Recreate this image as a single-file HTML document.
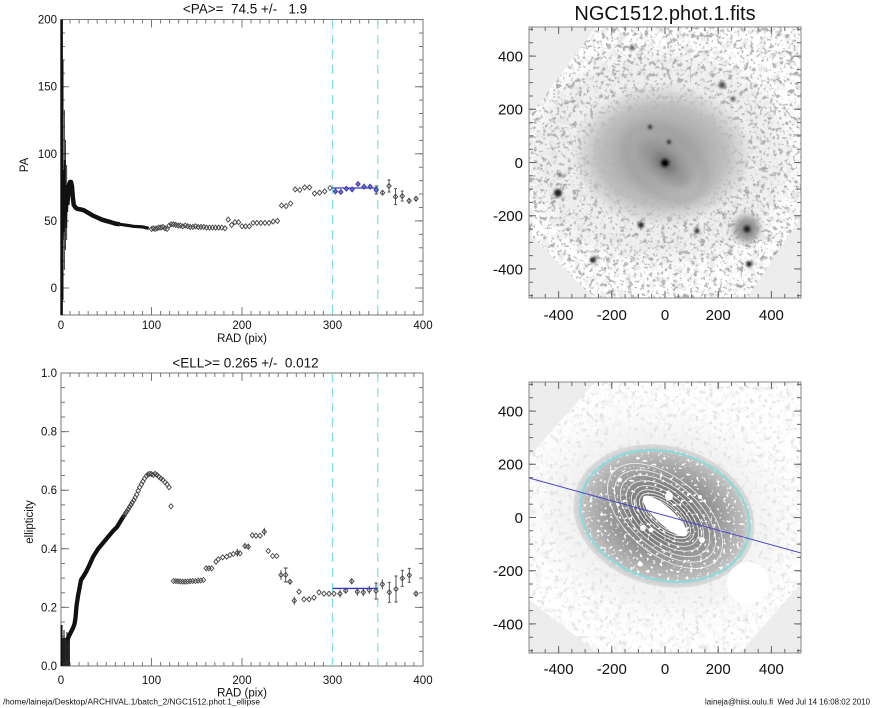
<!DOCTYPE html>
<html><head><meta charset="utf-8"><style>
html,body{margin:0;padding:0;background:#fff;}
svg{display:block;}
text{font-family:"Liberation Sans",Arial,sans-serif;fill:#111;}
</style></head><body>
<svg width="885" height="708" viewBox="0 0 885 708" xmlns="http://www.w3.org/2000/svg">
<defs>
<path id="m" d="M0,-2.5 L2.2,0 L0,2.5 L-2.2,0 Z" fill="none" stroke="#444" stroke-width="0.9"/>
<path id="mb" d="M0,-2.5 L2.2,0 L0,2.5 L-2.2,0 Z" fill="#6a6ad0" stroke="#3a3aa8" stroke-width="0.9"/>
<filter id="fA" filterUnits="userSpaceOnUse" x="529" y="27" width="272" height="271">
<feTurbulence type="fractalNoise" baseFrequency="0.18" numOctaves="3" seed="5" result="t"/>
<feColorMatrix in="t" type="matrix" values="0 0 0 0 0.42 0 0 0 0 0.42 0 0 0 0 0.42 8 0 0 0 -4.85"/>
</filter>
<filter id="fA2" filterUnits="userSpaceOnUse" x="529" y="27" width="272" height="271">
<feTurbulence type="fractalNoise" baseFrequency="0.12" numOctaves="3" seed="17" result="t"/>
<feColorMatrix in="t" type="matrix" values="0 0 0 0 0.78 0 0 0 0 0.78 0 0 0 0 0.78 3 0 0 0 -1.5"/>
</filter>
<filter id="fA3" filterUnits="userSpaceOnUse" x="529" y="27" width="272" height="271">
<feTurbulence type="fractalNoise" baseFrequency="0.3" numOctaves="2" seed="31" result="t"/>
<feColorMatrix in="t" type="matrix" values="0 0 0 0 0.5 0 0 0 0 0.5 0 0 0 0 0.5 9 0 0 0 -5.4"/>
</filter>
<filter id="fB" filterUnits="userSpaceOnUse" x="529" y="382" width="272" height="271">
<feTurbulence type="fractalNoise" baseFrequency="0.22" numOctaves="3" seed="9" result="t"/>
<feColorMatrix in="t" type="matrix" values="0 0 0 0 0.77 0 0 0 0 0.77 0 0 0 0 0.77 7 0 0 0 -4.1"/>
</filter>
<filter id="fB2" filterUnits="userSpaceOnUse" x="529" y="382" width="272" height="271">
<feTurbulence type="fractalNoise" baseFrequency="0.14" numOctaves="3" seed="23" result="t"/>
<feColorMatrix in="t" type="matrix" values="0 0 0 0 0.88 0 0 0 0 0.88 0 0 0 0 0.88 3 0 0 0 -1.5"/>
</filter>
<filter id="fC" filterUnits="userSpaceOnUse" x="570" y="440" width="190" height="155">
<feTurbulence type="fractalNoise" baseFrequency="0.3" numOctaves="2" seed="13" result="t"/>
<feColorMatrix in="t" type="matrix" values="0 0 0 0 1 0 0 0 0 1 0 0 0 0 1 10 0 0 0 -6.2"/>
</filter>
<filter id="bl1"><feGaussianBlur stdDeviation="1.4"/></filter>
<filter id="bl3"><feGaussianBlur stdDeviation="4"/></filter>
<filter id="bl6"><feGaussianBlur stdDeviation="8"/></filter>
<radialGradient id="glow">
<stop offset="0" stop-color="#9a9a9a" stop-opacity="1"/>
<stop offset="0.4" stop-color="#aaaaaa" stop-opacity="1"/>
<stop offset="0.7" stop-color="#bababa" stop-opacity="0.9"/>
<stop offset="0.88" stop-color="#c8c8c8" stop-opacity="0.5"/>
<stop offset="1" stop-color="#d6d6d6" stop-opacity="0"/>
</radialGradient>
<radialGradient id="halo2">
<stop offset="0" stop-color="#cccccc" stop-opacity="0.6"/>
<stop offset="0.7" stop-color="#dddddd" stop-opacity="0.3"/>
<stop offset="1" stop-color="#eeeeee" stop-opacity="0"/>
</radialGradient>
<radialGradient id="gal2">
<stop offset="0" stop-color="#5a5a5a"/>
<stop offset="0.35" stop-color="#7a7a7a"/>
<stop offset="0.62" stop-color="#9c9c9c"/>
<stop offset="0.88" stop-color="#bdbdbd"/>
<stop offset="1" stop-color="#cfcfcf" stop-opacity="0.6"/>
</radialGradient>
<clipPath id="o1"><polygon points="596,27 801,27 801,217 747,298 593,298 529,233 529,117"/></clipPath>
<clipPath id="o2"><polygon points="595,382 801,382 801,583 740,653 598,653 529,600 529,457"/></clipPath>
<clipPath id="e2"><ellipse cx="0" cy="0" rx="88" ry="66" transform="translate(665,516) rotate(15.5)"/></clipPath>
</defs>

<!-- ============ TOP LEFT: PA plot ============ -->
<text x="245" y="13.5" text-anchor="middle" font-size="13.5" style="white-space:pre">&lt;PA&gt;=  74.5 +/-   1.9</text>
<rect x="61" y="19.5" width="362" height="295.5" fill="none" stroke="#777" stroke-width="1"/>
<g stroke="#777" fill="none">
<line x1="60.5" y1="313" x2="424" y2="313" stroke-width="4" stroke-dasharray="1 8.05"/>
<line x1="60.5" y1="21.5" x2="424" y2="21.5" stroke-width="4" stroke-dasharray="1 8.05"/>
<line x1="63" y1="19.1" x2="63" y2="315.3" stroke-width="4" stroke-dasharray="1 12.42"/>
<line x1="421" y1="19.1" x2="421" y2="315.3" stroke-width="4" stroke-dasharray="1 12.42"/>
<path stroke-width="1" d="M151.5,315V307M242,315V307M332.5,315V307M151.5,19.5V27.5M242,19.5V27.5M332.5,19.5V27.5M61,86.7H69M61,153.8H69M61,220.9H69M61,288H69M415,86.7H423M415,153.8H423M415,220.9H423M415,288H423"/>
</g>
<g font-size="11.5" text-anchor="end">
<text x="57" y="23.6">200</text><text x="57" y="90.7">150</text><text x="57" y="157.8">100</text><text x="57" y="224.9">50</text><text x="57" y="292">0</text>
</g>
<g font-size="11.5" text-anchor="middle">
<text x="61" y="329">0</text><text x="151.5" y="329">100</text><text x="242" y="329">200</text><text x="332.5" y="329">300</text><text x="423" y="329">400</text>
</g>
<text x="242" y="342" text-anchor="middle" font-size="11.5">RAD (pix)</text>
<text transform="translate(28,165) rotate(-90)" text-anchor="middle" font-size="11.5">PA</text>
<g stroke="#7fe0e0" stroke-width="1.2" stroke-dasharray="9 6">
<line x1="332.5" y1="20" x2="332.5" y2="315"/><line x1="377.8" y1="20" x2="377.8" y2="315"/>
</g>
<g fill="none" stroke="#111">
<line x1="61.6" y1="19.5" x2="61.6" y2="315" stroke-width="2.6"/>
<line x1="63" y1="60" x2="63" y2="300" stroke-width="1"/>
<line x1="64.3" y1="110" x2="64.3" y2="270" stroke-width="0.8"/>
<line x1="65.5" y1="140" x2="65.5" y2="250" stroke-width="0.8"/>
<line x1="66.7" y1="165" x2="66.7" y2="240" stroke-width="0.8"/>
<polyline stroke-width="1.6" points="62.5,150 63,240 63.6,170 64.1,232 64.7,160 65.2,218 65.8,185 66.3,228 66.8,196 67.3,212 67.8,200 68.3,190"/>
<path stroke-width="4.5" stroke-linejoin="round" d="M67.3,204.8 L68.2,194.1 L69.1,184.7 L70.1,182 L71,182 L71.9,186 L72.8,196.7 L73.7,204.8 L75.5,207.5 L77.3,208.8 L80.9,209.5 L83.6,210.2 L88.2,212.8 L92.7,215.5 L97.2,217.5 L101.7,219.6 L106.3,220.9 L110.8,222.2 L115.3,223.6 L119.8,224.3"/>
<path stroke-width="3.2" stroke-linejoin="round" d="M119.8,224.3 L124.4,224.9 L133.4,226.3 L142.5,226.9 L148.8,228.3"/>
</g>
<g>
<use href="#m" x="151.5" y="229"/><use href="#m" x="153.3" y="228.3"/><use href="#m" x="155.1" y="229"/><use href="#m" x="157" y="228.3"/><use href="#m" x="158.9" y="227.6"/><use href="#m" x="160.9" y="227.6"/><use href="#m" x="162.9" y="226.9"/><use href="#m" x="165" y="228.3"/><use href="#m" x="167.1" y="229"/><use href="#m" x="169.1" y="225.6"/><use href="#m" x="171.3" y="224.3"/><use href="#m" x="173.5" y="224.3"/><use href="#m" x="175.8" y="224.9"/><use href="#m" x="178.1" y="225.6"/><use href="#m" x="180.4" y="225.6"/><use href="#m" x="182.8" y="226.3"/><use href="#m" x="185.3" y="225.6"/><use href="#m" x="187.7" y="226.3"/><use href="#m" x="190.2" y="226.9"/><use href="#m" x="192.9" y="226.9"/><use href="#m" x="195.5" y="226.3"/><use href="#m" x="198.2" y="226.9"/><use href="#m" x="200.9" y="226.9"/><use href="#m" x="203.7" y="226.9"/><use href="#m" x="206.5" y="227.6"/><use href="#m" x="209.5" y="227.6"/><use href="#m" x="212.5" y="227.6"/><use href="#m" x="215.5" y="227.6"/><use href="#m" x="218.6" y="227.6"/><use href="#m" x="221.7" y="227.6"/><use href="#m" x="225" y="228.3"/><use href="#m" x="228.2" y="219.6"/><use href="#m" x="231.6" y="224.9"/><use href="#m" x="235" y="222.2"/><use href="#m" x="238.5" y="222.2"/><use href="#m" x="242" y="226.3"/><use href="#m" x="245.6" y="226.3"/><use href="#m" x="249.3" y="226.3"/><use href="#m" x="253.1" y="222.9"/><use href="#m" x="256.9" y="222.9"/><use href="#m" x="260.8" y="222.9"/><use href="#m" x="264.9" y="222.9"/><use href="#m" x="269" y="222.9"/><use href="#m" x="273.1" y="221.6"/><use href="#m" x="277.4" y="220.9"/><use href="#m" x="281.6" y="205.5"/><use href="#m" x="286.1" y="206.1"/><use href="#m" x="290.6" y="203.5"/><use href="#m" x="295.2" y="189.4"/><use href="#m" x="299.8" y="190"/><use href="#m" x="304.6" y="187.4"/><use href="#m" x="309.5" y="187.4"/><use href="#m" x="314.5" y="193.4"/><use href="#m" x="319.6" y="192.7"/><use href="#m" x="324.7" y="191.4"/><use href="#m" x="330" y="188"/>
<use href="#m" x="382.5" y="192.7"/><use href="#m" x="389" y="186"/><use href="#m" x="395.5" y="196.7"/><use href="#m" x="402.2" y="196.1"/><use href="#m" x="409.1" y="200.8"/><use href="#m" x="416" y="198.8"/>
</g>
<path fill="none" stroke="#444" stroke-width="0.9" d="M376.2,186V194M382.5,190V195.4M389,180V192M395.5,188.7V204.7M402.2,191.1V201.1M409.1,197.8V203.8M416,195.8V201.8M374.7,186H377.7M374.7,194H377.7M387.5,180H390.5M387.5,192H390.5M394,188.7H397M394,204.7H397M400.7,191.1H403.7M400.7,201.1H403.7"/>
<line x1="332.5" y1="188" x2="377.8" y2="188" stroke="#3535c0" stroke-width="1.3"/>
<g>
<use href="#mb" x="335.4" y="191.4"/><use href="#mb" x="340.8" y="192"/><use href="#mb" x="346.4" y="188.7"/><use href="#mb" x="352.1" y="189.4"/><use href="#mb" x="358" y="184"/><use href="#mb" x="364" y="186.7"/><use href="#mb" x="370.1" y="186.7"/><use href="#mb" x="376.2" y="190"/>
</g>

<!-- ============ BOTTOM LEFT: ellipticity ============ -->
<text x="245.5" y="367.5" text-anchor="middle" font-size="13.5" style="white-space:pre">&lt;ELL&gt;= 0.265 +/-  0.012</text>
<rect x="61" y="373" width="362" height="293" fill="none" stroke="#777" stroke-width="1"/>
<g stroke="#777" fill="none">
<line x1="60.5" y1="664" x2="424" y2="664" stroke-width="4" stroke-dasharray="1 8.05"/>
<line x1="60.5" y1="375" x2="424" y2="375" stroke-width="4" stroke-dasharray="1 8.05"/>
<line x1="63" y1="372.5" x2="63" y2="666.5" stroke-width="4" stroke-dasharray="1 13.65"/>
<line x1="421" y1="372.5" x2="421" y2="666.5" stroke-width="4" stroke-dasharray="1 13.65"/>
<path stroke-width="1" d="M151.5,666V658M242,666V658M332.5,666V658M151.5,373V381M242,373V381M332.5,373V381M61,431.6H69M61,490.2H69M61,548.8H69M61,607.4H69M415,431.6H423M415,490.2H423M415,548.8H423M415,607.4H423"/>
</g>
<g font-size="11.5" text-anchor="end">
<text x="57" y="377">1.0</text><text x="57" y="435.6">0.8</text><text x="57" y="494.2">0.6</text><text x="57" y="552.8">0.4</text><text x="57" y="611.4">0.2</text><text x="57" y="670">0.0</text>
</g>
<g font-size="11.5" text-anchor="middle">
<text x="61" y="684">0</text><text x="151.5" y="684">100</text><text x="242" y="684">200</text><text x="332.5" y="684">300</text><text x="423" y="684">400</text>
</g>
<text x="242" y="696.5" text-anchor="middle" font-size="11.5">RAD (pix)</text>
<text transform="translate(33,522) rotate(-90)" text-anchor="middle" font-size="11.5">ellipticity</text>
<g stroke="#7fe0e0" stroke-width="1.2" stroke-dasharray="9 6">
<line x1="332.5" y1="373" x2="332.5" y2="666"/><line x1="377.8" y1="373" x2="377.8" y2="666"/>
</g>
<g fill="none" stroke="#111">
<rect x="61" y="638" width="9" height="28" fill="#2a2a2a" stroke="none"/>
<line x1="61.5" y1="625" x2="61.5" y2="666" stroke-width="2"/>
<line x1="64" y1="630" x2="64" y2="662" stroke-width="1"/>
<line x1="67" y1="632" x2="67" y2="660" stroke-width="1"/>
<path stroke-width="4.3" stroke-linejoin="round" d="M67,640 L69,636 L70,634 L71.5,631 L73,628 L74.5,624 L75.5,618 L76.5,606 L78,596 L79.5,588 L81,580 L83,577 L86,572 L89,566 L93,557 L98,549 L103,543 L108,537 L113,531 L117,527 L120,522 L124.4,515"/>
</g>
<g>
<use href="#m" x="124.4" y="515.1"/><use href="#m" x="125.6" y="513.1"/><use href="#m" x="126.9" y="511.3"/><use href="#m" x="128.2" y="509.2"/><use href="#m" x="129.6" y="506.9"/><use href="#m" x="131" y="504.9"/><use href="#m" x="132.3" y="502.5"/><use href="#m" x="133.8" y="500.2"/><use href="#m" x="135.2" y="497.5"/><use href="#m" x="136.7" y="494.6"/><use href="#m" x="138.2" y="490.8"/><use href="#m" x="139.7" y="487.3"/><use href="#m" x="141.4" y="484.3"/><use href="#m" x="142.9" y="481.4"/><use href="#m" x="144.5" y="478.5"/><use href="#m" x="146.3" y="476.1"/><use href="#m" x="148" y="474.4"/><use href="#m" x="149.7" y="473.8"/><use href="#m" x="151.5" y="474.1"/><use href="#m" x="153.3" y="475"/><use href="#m" x="155.1" y="473.8"/><use href="#m" x="157" y="475"/><use href="#m" x="158.9" y="476.7"/><use href="#m" x="160.9" y="478.5"/><use href="#m" x="162.9" y="479.9"/><use href="#m" x="165" y="482.3"/><use href="#m" x="167.1" y="484.3"/><use href="#m" x="169.1" y="487.3"/><use href="#m" x="171" y="506.3"/>
<use href="#m" x="173.5" y="581"/><use href="#m" x="175.8" y="581"/><use href="#m" x="178" y="581.3"/><use href="#m" x="180.3" y="581.5"/><use href="#m" x="182.7" y="581.7"/><use href="#m" x="185.1" y="581.7"/><use href="#m" x="187.6" y="581.5"/><use href="#m" x="190.1" y="581.2"/><use href="#m" x="192.7" y="581"/><use href="#m" x="195.4" y="581"/><use href="#m" x="198.1" y="580.7"/><use href="#m" x="200.8" y="580.5"/><use href="#m" x="203.5" y="580"/>
<use href="#m" x="206.2" y="568.3"/><use href="#m" x="208.8" y="568.3"/><use href="#m" x="211.7" y="568.3"/><use href="#m" x="216" y="561.7"/><use href="#m" x="218.3" y="559.3"/><use href="#m" x="222.7" y="557.3"/><use href="#m" x="226.7" y="556.7"/><use href="#m" x="230" y="555"/><use href="#m" x="233.3" y="554"/><use href="#m" x="237.3" y="552.7"/><use href="#m" x="240" y="553.3"/><use href="#m" x="245" y="546"/><use href="#m" x="248.3" y="546.7"/><use href="#m" x="252.3" y="535.3"/><use href="#m" x="256" y="535.7"/><use href="#m" x="260" y="535.7"/><use href="#m" x="264.3" y="531.7"/><use href="#m" x="268.3" y="551"/><use href="#m" x="272.7" y="556"/><use href="#m" x="276.7" y="556"/><use href="#m" x="281" y="575"/><use href="#m" x="285.7" y="575"/><use href="#m" x="290" y="581.7"/><use href="#m" x="294.3" y="600.7"/><use href="#m" x="299" y="591.7"/><use href="#m" x="304" y="599.3"/><use href="#m" x="309" y="599.3"/><use href="#m" x="314" y="597.7"/><use href="#m" x="319" y="592.3"/><use href="#m" x="324" y="593.7"/><use href="#m" x="329" y="593.7"/>
<use href="#m" x="334" y="593.7"/><use href="#m" x="340" y="593.7"/><use href="#m" x="345.7" y="590.7"/><use href="#m" x="351.7" y="581.3"/><use href="#m" x="357.3" y="591.7"/><use href="#m" x="363.3" y="592.3"/><use href="#m" x="369.3" y="590"/><use href="#m" x="376" y="591"/>
<use href="#m" x="382.3" y="584.3"/><use href="#m" x="389.3" y="592.3"/><use href="#m" x="396" y="589"/><use href="#m" x="402.3" y="578.3"/><use href="#m" x="409.3" y="575.3"/><use href="#m" x="416" y="593.7"/>
</g>
<path fill="none" stroke="#444" stroke-width="0.9" d="M237.3,548.7V556.7M245,543V549M248.3,543.7V549.7M264.3,527.7V535.7M281,570V580M285.7,568V582M290,578.7V584.7M294.3,596.7V604.7M340,589.7V597.7M345.7,587.7V593.7M351.7,578.3V584.3M357.3,587.7V595.7M363.3,588.3V596.3M369.3,586V594M376,583V599M382.3,579.3V589.3M389.3,582.3V602.3M396,576V602M402.3,570.3V586.3M409.3,568.3V582.3M416,590.7V596.7M374.5,583H377.5M374.5,599H377.5M387.8,582.3H390.8M387.8,602.3H390.8M394.5,576H397.5M394.5,602H397.5M400.8,570.3H403.8M400.8,586.3H403.8M407.8,568.3H410.8M407.8,582.3H410.8M283.7,568H287.7M283.7,582H287.7"/>
<line x1="332.5" y1="588.4" x2="377.8" y2="588.4" stroke="#3535c0" stroke-width="1.4"/>

<!-- ============ TOP RIGHT: image ============ -->
<text x="665" y="20" text-anchor="middle" font-size="20">NGC1512.phot.1.fits</text>
<rect x="529" y="27" width="272" height="271" fill="#ededed"/>
<g clip-path="url(#o1)">
<rect x="529" y="27" width="272" height="271" fill="#fff"/>
<ellipse cx="660" cy="158" rx="130" ry="105" fill="#e4e4e4" opacity="0.6" filter="url(#bl6)"/>
<rect x="529" y="27" width="272" height="271" filter="url(#fA2)"/>
<rect x="529" y="27" width="272" height="271" filter="url(#fA)"/>
<rect x="529" y="27" width="272" height="271" filter="url(#fA3)"/>
<ellipse cx="662" cy="155" rx="92" ry="72" fill="url(#glow)"/>
<g filter="url(#bl3)">
<ellipse cx="0" cy="0" rx="46" ry="30" fill="none" stroke="#8e8e8e" stroke-width="6" opacity="0.35" transform="translate(665,163) rotate(40)"/>
<ellipse cx="0" cy="0" rx="30" ry="15" fill="#939393" opacity="0.8" transform="translate(665,163) rotate(40)"/>
<ellipse cx="0" cy="0" rx="14" ry="8" fill="#777" transform="translate(665,163) rotate(40)"/>
<circle cx="747" cy="229" r="13" fill="#8e8e8e"/>
</g>
<g filter="url(#bl1)" fill="#222">
<circle cx="665" cy="163" r="4.5"/>
<circle cx="558" cy="193" r="4"/>
<circle cx="747" cy="229" r="3.5"/>
<circle cx="641" cy="225" r="3"/>
<circle cx="697" cy="231" r="2.5"/>
<circle cx="593" cy="260" r="3"/>
<circle cx="749" cy="264" r="3"/>
<circle cx="722" cy="85" r="3.5" fill="#555"/>
<circle cx="733" cy="99" r="2.5" fill="#555"/>
<circle cx="669" cy="142" r="2"/>
<circle cx="650" cy="127" r="2"/>
<circle cx="632" cy="48" r="2.5" fill="#555"/>
<circle cx="560" cy="175" r="2" fill="#555"/>
</g>
<circle cx="665" cy="163" r="2.3" fill="#000"/>
</g>
<rect x="529" y="27" width="272" height="271" fill="none" stroke="#888" stroke-width="1"/>
<g stroke="#666" fill="none">
<line x1="531.4" y1="296" x2="799" y2="296" stroke-width="4" stroke-dasharray="1 12.31"/>
<line x1="531.4" y1="29" x2="799" y2="29" stroke-width="4" stroke-dasharray="1 12.31"/>
<line x1="531" y1="28.9" x2="531" y2="297" stroke-width="4" stroke-dasharray="1 12.31"/>
<line x1="799" y1="28.9" x2="799" y2="297" stroke-width="4" stroke-dasharray="1 12.31"/>
<path stroke-width="1" d="M558.6,298V291M611.8,298V291M665,298V291M718.2,298V291M771.4,298V291M558.6,27V34M611.8,27V34M665,27V34M718.2,27V34M771.4,27V34M529,56.1H536M529,109.3H536M529,162.5H536M529,215.7H536M529,268.9H536M801,56.1H794M801,109.3H794M801,162.5H794M801,215.7H794M801,268.9H794"/>
</g>
<g font-size="15" text-anchor="end">
<text x="523" y="61.5">400</text><text x="523" y="114.7">200</text><text x="523" y="168">0</text><text x="523" y="221">-200</text><text x="523" y="274.3">-400</text>
</g>
<g font-size="15" text-anchor="middle">
<text x="558.6" y="320">-400</text><text x="611.8" y="320">-200</text><text x="665" y="320">0</text><text x="718.2" y="320">200</text><text x="771.4" y="320">400</text>
</g>

<!-- ============ BOTTOM RIGHT: image ============ -->
<rect x="529" y="382" width="272" height="271" fill="#ededed"/>
<g clip-path="url(#o2)">
<rect x="529" y="382" width="272" height="271" fill="#fff"/>
<ellipse cx="0" cy="0" rx="150" ry="120" fill="url(#halo2)" transform="translate(662,516) rotate(15.5)"/>
<rect x="529" y="382" width="272" height="271" filter="url(#fB2)"/>
<rect x="529" y="382" width="272" height="271" filter="url(#fB)"/>
<ellipse cx="0" cy="0" rx="92" ry="70" fill="url(#gal2)" transform="translate(664,516) rotate(15.5)"/>
<g fill="none" stroke="#f2f2f2" stroke-width="0.9" opacity="0.9">
<ellipse cx="0" cy="0" rx="68" ry="38" transform="translate(665,516) rotate(40)"/>
<ellipse cx="0" cy="0" rx="60" ry="33" transform="translate(665,516) rotate(40)"/>
<ellipse cx="0" cy="0" rx="53" ry="29" transform="translate(665,516) rotate(40)"/>
<ellipse cx="0" cy="0" rx="46" ry="25" transform="translate(665,516) rotate(40)"/>
<ellipse cx="0" cy="0" rx="40" ry="21" transform="translate(665,516) rotate(40)"/>
<ellipse cx="0" cy="0" rx="35" ry="17.5" transform="translate(665,516) rotate(40)"/>
<ellipse cx="0" cy="0" rx="31" ry="14.5" transform="translate(665,516) rotate(40)"/>
<ellipse cx="0" cy="0" rx="27" ry="12" transform="translate(665,516) rotate(40)"/>
<ellipse cx="0" cy="0" rx="24" ry="10" transform="translate(665,516) rotate(40)"/>
</g>
<ellipse cx="0" cy="0" rx="29" ry="8.5" fill="#fff" transform="translate(665,516) rotate(42)"/>
<g clip-path="url(#e2)">
<rect x="570" y="440" width="190" height="155" filter="url(#fC)"/>
</g>
<g fill="#fff">
<circle cx="748" cy="583" r="21"/>
<circle cx="669" cy="496" r="4"/>
<circle cx="643" cy="528" r="3"/>
<circle cx="651" cy="530" r="2.5"/>
<circle cx="702" cy="540" r="3"/>
<circle cx="700" cy="497" r="2"/>
<circle cx="640" cy="564" r="2.5"/>
<circle cx="620" cy="480" r="2"/>
</g>
<ellipse cx="0" cy="0" rx="86" ry="64" fill="none" stroke="#86dcdc" stroke-width="2" transform="translate(665,516) rotate(15.5)"/>
<line x1="529" y1="478" x2="801" y2="553" stroke="#4646c8" stroke-width="1"/>
</g>
<rect x="529" y="382" width="272" height="271" fill="none" stroke="#888" stroke-width="1"/>
<g stroke="#666" fill="none">
<line x1="531.4" y1="651" x2="799" y2="651" stroke-width="4" stroke-dasharray="1 12.31"/>
<line x1="531.4" y1="384" x2="799" y2="384" stroke-width="4" stroke-dasharray="1 12.31"/>
<line x1="531" y1="383.9" x2="531" y2="652" stroke-width="4" stroke-dasharray="1 12.31"/>
<line x1="799" y1="383.9" x2="799" y2="652" stroke-width="4" stroke-dasharray="1 12.31"/>
<path stroke-width="1" d="M558.6,653V646M611.8,653V646M665,653V646M718.2,653V646M771.4,653V646M558.6,382V389M611.8,382V389M665,382V389M718.2,382V389M771.4,382V389M529,411.1H536M529,464.3H536M529,517.5H536M529,570.7H536M529,623.9H536M801,411.1H794M801,464.3H794M801,517.5H794M801,570.7H794M801,623.9H794"/>
</g>
<g font-size="15" text-anchor="end">
<text x="523" y="416.5">400</text><text x="523" y="469.7">200</text><text x="523" y="523">0</text><text x="523" y="576">-200</text><text x="523" y="629.3">-400</text>
</g>
<g font-size="15" text-anchor="middle">
<text x="558.6" y="674">-400</text><text x="611.8" y="674">-200</text><text x="665" y="674">0</text><text x="718.2" y="674">200</text><text x="771.4" y="674">400</text>
</g>

<text x="3" y="704.5" font-size="8" textLength="257" lengthAdjust="spacingAndGlyphs">/home/laineja/Desktop/ARCHIVAL.1/batch_2/NGC1512.phot.1_ellipse</text>
<text x="705" y="704.5" font-size="8" textLength="165" lengthAdjust="spacingAndGlyphs" style="white-space:pre">laineja@hiisi.oulu.fi  Wed Jul 14 16:08:02 2010</text>
</svg>
</body></html>
